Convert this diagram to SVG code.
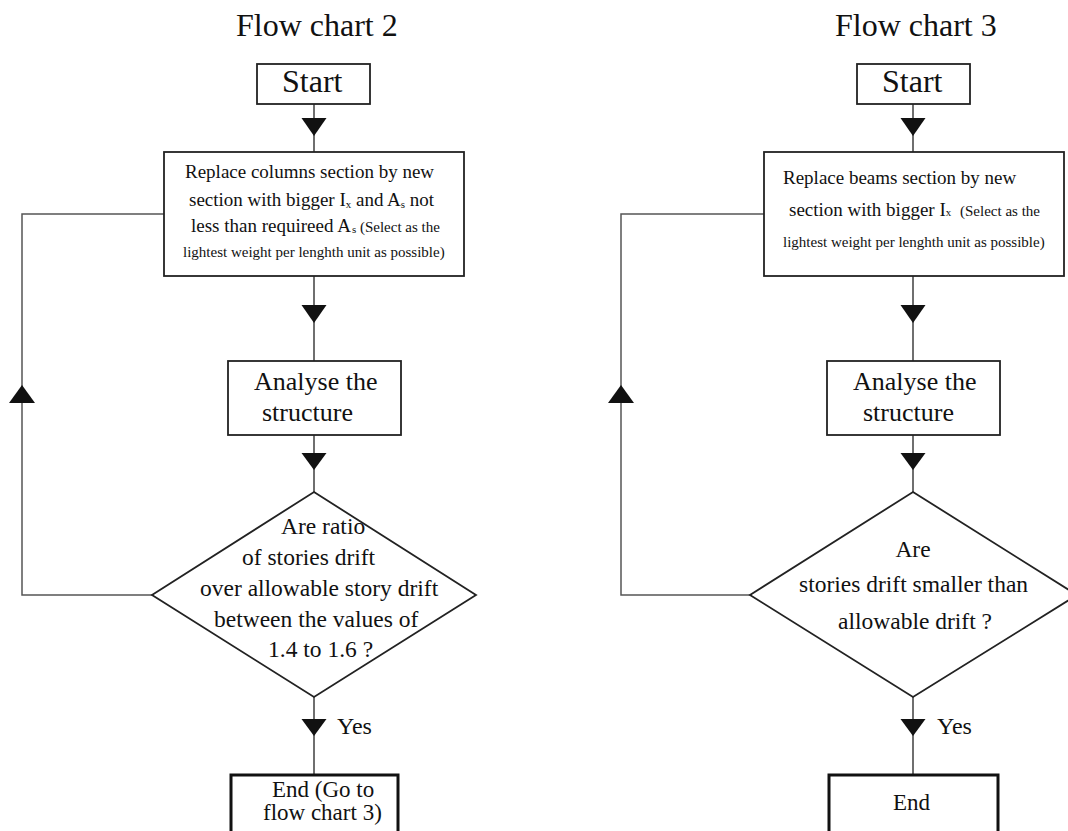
<svg xmlns="http://www.w3.org/2000/svg" width="1068" height="831" viewBox="0 0 1068 831">
<style>
text{font-family:"Liberation Serif","Times New Roman",serif;fill:#111}
.t{font-size:32px}
.a{font-size:26px}
.d{font-size:23.5px}
.e{font-size:23px}
.b{font-size:19px}
.s{font-size:15px}
.sub{font-size:11px}
.box{fill:#fff;stroke:#222;stroke-width:1.8}
.endb{fill:#fff;stroke:#111;stroke-width:3}
.ln{fill:none;stroke:#333;stroke-width:1.4}
.loop{fill:none;stroke:#555;stroke-width:1.5}
.ah{fill:#111}
</style>
<rect width="1068" height="831" fill="#fff"/>

<g id="connectors">
  <!-- chart 2 -->
  <path class="ln" d="M314 104V152M314 276V361M314 435V492M314 697V775"/>
  <path class="loop" d="M164 214H22V595H152"/>
  <path class="ah" d="M301.5 118H326.5L314 136Z"/>
  <path class="ah" d="M301.5 305H326.5L314 323Z"/>
  <path class="ah" d="M301.5 453H326.5L314 470Z"/>
  <path class="ah" d="M301.5 719H326.5L314 736Z"/>
  <path class="ah" d="M9 403H35L22 385Z"/>
  <text x="337" y="734" style="font-size:24px">Yes</text>
  <!-- chart 3 -->
  <path class="ln" d="M913 104V152M913 276V361M913 435V492M913 697V775"/>
  <path class="loop" d="M764 214H621V595H750"/>
  <path class="ah" d="M900.5 118H925.5L913 136Z"/>
  <path class="ah" d="M900.5 305H925.5L913 323Z"/>
  <path class="ah" d="M900.5 453H925.5L913 470Z"/>
  <path class="ah" d="M900.5 719H925.5L913 736Z"/>
  <path class="ah" d="M608 403H634L621 385Z"/>
  <text x="937" y="734" style="font-size:24px">Yes</text>
</g>

<g id="title2"><text class="t" x="236" y="36">Flow chart 2</text></g>
<g id="title3"><text class="t" x="835" y="36">Flow chart 3</text></g>

<g id="start2">
  <rect class="box" x="257" y="64" width="113" height="40"/>
  <text class="t" x="282" y="92">Start</text>
</g>
<g id="replace2">
  <rect class="box" x="164" y="152" width="300" height="124"/>
  <text class="b" x="185" y="178">Replace columns section by new</text>
  <text class="b" x="189" y="206">section with bigger I<tspan class="sub" dy="2">x</tspan><tspan dy="-2"> and A</tspan><tspan class="sub" dy="2">s</tspan><tspan dy="-2"> not</tspan></text>
  <text class="b" x="191" y="232">less than requireed A<tspan class="sub" dx="1" dy="1">s</tspan><tspan class="s" dy="-1"> (Select as the</tspan></text>
  <text class="s" x="183" y="257">lightest weight per lenghth unit as possible)</text>
</g>
<g id="analyse2">
  <rect class="box" x="228" y="361" width="173" height="74"/>
  <text class="a" x="254" y="390">Analyse the</text>
  <text class="a" x="262" y="421">structure</text>
</g>
<g id="decision2">
  <path class="box" d="M314 492L476 595L314 697L152 595Z"/>
  <text class="d" x="281" y="534">Are ratio</text>
  <text class="d" x="242" y="565">of stories drift</text>
  <text class="d" x="200" y="596">over allowable story drift</text>
  <text class="d" x="214" y="627">between the values of</text>
  <text class="d" x="268" y="657">1.4 to 1.6 ?</text>
</g>
<g id="end2">
  <rect class="endb" x="231" y="775" width="167" height="70"/>
  <text class="e" x="272" y="797">End (Go to</text>
  <text class="e" x="263" y="820">flow chart 3)</text>
</g>

<g id="start3">
  <rect class="box" x="857" y="64" width="113" height="40"/>
  <text class="t" x="882" y="92">Start</text>
</g>
<g id="replace3">
  <rect class="box" x="764" y="152" width="300" height="124"/>
  <text class="b" x="783" y="184">Replace beams section by new</text>
  <text class="b" x="789" y="216">section with bigger I<tspan class="sub">x</tspan><tspan class="s" x="960">(Select as the</tspan></text>
  <text class="s" x="783" y="247">lightest weight per lenghth unit as possible)</text>
</g>
<g id="analyse3">
  <rect class="box" x="827" y="361" width="173" height="74"/>
  <text class="a" x="853" y="390">Analyse the</text>
  <text class="a" x="863" y="421">structure</text>
</g>
<g id="decision3">
  <path class="box" d="M913 492L1077 595L913 697L750 595Z"/>
  <text class="d" x="913" y="557" text-anchor="middle">Are</text>
  <text class="d" x="799" y="592">stories drift smaller than</text>
  <text class="d" x="838" y="629">allowable drift ?</text>
</g>
<g id="end3">
  <rect class="endb" x="829" y="775" width="169" height="70"/>
  <text class="e" x="893" y="810">End</text>
</g>
</svg>
